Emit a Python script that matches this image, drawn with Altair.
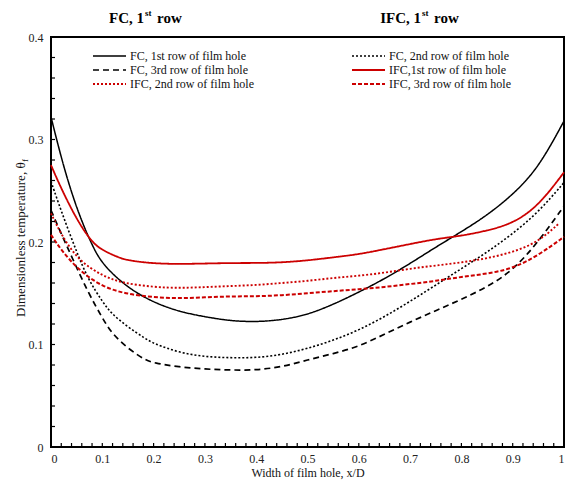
import altair as alt
import pandas as pd

# Dimensionless temperature across the film hole width for FC and IFC cases
x_fc1 = [0, 0.02, 0.04, 0.06, 0.08, 0.1, 0.15, 0.2, 0.25, 0.3, 0.35, 0.4, 0.45, 0.5, 0.55, 0.6, 0.65, 0.7, 0.75, 0.8, 0.85, 0.9, 0.95, 1.0]
y_fc1 = [0.322, 0.282, 0.248, 0.220, 0.197, 0.178, 0.155, 0.141, 0.132, 0.127, 0.123, 0.122, 0.124, 0.129, 0.139, 0.151, 0.164, 0.179, 0.195, 0.210, 0.226, 0.246, 0.272, 0.318]

x_fc2 = [0, 0.02, 0.05, 0.073, 0.1, 0.118, 0.15, 0.183, 0.2, 0.25, 0.3, 0.35, 0.4, 0.45, 0.5, 0.55, 0.6, 0.65, 0.7, 0.75, 0.8, 0.85, 0.9, 0.95, 1.0]
y_fc2 = [0.259, 0.230, 0.190, 0.163, 0.142, 0.130, 0.117, 0.106, 0.101, 0.092, 0.088, 0.087, 0.087, 0.090, 0.096, 0.104, 0.114, 0.127, 0.142, 0.158, 0.174, 0.190, 0.208, 0.229, 0.258]

x_fc3 = [0, 0.02, 0.04, 0.073, 0.1, 0.118, 0.15, 0.183, 0.2, 0.25, 0.3, 0.35, 0.4, 0.45, 0.5, 0.55, 0.6, 0.65, 0.7, 0.75, 0.8, 0.85, 0.9, 0.95, 1.0]
y_fc3 = [0.231, 0.208, 0.186, 0.150, 0.126, 0.111, 0.096, 0.085, 0.082, 0.078, 0.076, 0.075, 0.075, 0.078, 0.085, 0.091, 0.098, 0.110, 0.122, 0.133, 0.144, 0.156, 0.172, 0.200, 0.235]

x_ifc1 = [0, 0.02, 0.05, 0.079, 0.1, 0.131, 0.15, 0.2, 0.25, 0.3, 0.35, 0.4, 0.45, 0.5, 0.55, 0.6, 0.65, 0.7, 0.75, 0.8, 0.85, 0.9, 0.95, 1.0]
y_ifc1 = [0.275, 0.252, 0.222, 0.200, 0.192, 0.185, 0.182, 0.179, 0.1785, 0.179, 0.1795, 0.1795, 0.180, 0.182, 0.185, 0.188, 0.193, 0.198, 0.203, 0.206, 0.211, 0.218, 0.235, 0.268]

x_ifc2 = [0, 0.02, 0.053, 0.1, 0.138, 0.2, 0.25, 0.3, 0.35, 0.4, 0.45, 0.5, 0.55, 0.6, 0.65, 0.7, 0.75, 0.8, 0.85, 0.9, 0.95, 0.99]
y_ifc2 = [0.228, 0.207, 0.182, 0.167, 0.160, 0.156, 0.155, 0.156, 0.157, 0.158, 0.160, 0.162, 0.165, 0.167, 0.170, 0.174, 0.177, 0.180, 0.184, 0.190, 0.200, 0.218]

x_ifc3 = [0, 0.02, 0.053, 0.1, 0.15, 0.2, 0.25, 0.3, 0.35, 0.4, 0.45, 0.5, 0.55, 0.6, 0.65, 0.7, 0.75, 0.8, 0.85, 0.9, 0.95, 1.0]
y_ifc3 = [0.207, 0.192, 0.173, 0.156, 0.149, 0.146, 0.145, 0.146, 0.147, 0.147, 0.148, 0.150, 0.152, 0.154, 0.156, 0.159, 0.162, 0.166, 0.169, 0.174, 0.187, 0.205]

series_names = [
    "FC,  1st row of film hole",
    "FC, 2nd row of film hole",
    "FC, 3rd row of film hole",
    "IFC,1st row of film hole",
    "IFC, 2nd row of film hole",
    "IFC, 3rd row of film hole",
]
series_colors = ["#000000", "#000000", "#000000", "#cc0000", "#cc0000", "#cc0000"]
series_dashes = [[1, 0], [2, 2], [6, 4], [1, 0], [2, 2], [4, 2]]
series_widths = [1.5, 2, 1.5, 1.5, 2, 1.5]

x_ticks = [0, 0.1, 0.2, 0.3, 0.4, 0.5, 0.6, 0.7, 0.8, 0.9, 1.0]
y_ticks = [0, 0.1, 0.2, 0.3, 0.4]
x_minor = [round(i * 0.02, 2) for i in range(1, 50)]
y_minor = [round(i * 0.02, 2) for i in range(1, 20)]

xs = [x_fc1, x_fc2, x_fc3, x_ifc1, x_ifc2, x_ifc3]
ys = [y_fc1, y_fc2, y_fc3, y_ifc1, y_ifc2, y_ifc3]
rows = []
for name, xv, yv in zip(series_names, xs, ys):
    for i, (a, b) in enumerate(zip(xv, yv)):
        rows.append({"series": name, "x": a, "y": b, "order": i})
df = pd.DataFrame(rows)

W, H = 513, 410
FONT = "Liberation Serif"

color_enc = alt.Color("series:N", scale=alt.Scale(domain=series_names, range=series_colors), legend=None)
dash_enc = alt.StrokeDash("series:N", scale=alt.Scale(domain=series_names, range=series_dashes), legend=None)
width_enc = alt.StrokeWidth("series:N", scale=alt.Scale(domain=series_names, range=series_widths), legend=None)

xs_scale = alt.Scale(domain=[0, 1], nice=False, zero=False)
ys_scale = alt.Scale(domain=[0, 0.4], nice=False)

lines = alt.Chart(df).mark_line(interpolate="basis").encode(
    x=alt.X("x:Q", scale=xs_scale, axis=alt.Axis(
        values=x_ticks, format=".1~f", title="Width of film hole, x/D",
        labelPadding=6, titlePadding=3)),
    y=alt.Y("y:Q", scale=ys_scale, axis=alt.Axis(
        values=y_ticks, format=".1~f", title=None, labelPadding=8)),
    color=color_enc, strokeDash=dash_enc, strokeWidth=width_enc,
    order="order:Q",
)

# key: two columns, filled row by row
key = pd.DataFrame({
    "series": series_names,
    "col": [i % 2 for i in range(len(series_names))],
    "row": [i // 2 for i in range(len(series_names))],
})
key_base = alt.Chart(key).transform_calculate(
    lx="42 + 259 * datum.col", lx2="75 + 259 * datum.col",
    tx="79 + 259 * datum.col", ly="19 + 14 * datum.row",
)
key_lines = key_base.mark_rule().encode(
    x=alt.X("lx:Q", scale=None), x2="lx2:Q", y=alt.Y("ly:Q", scale=None),
    color=color_enc, strokeDash=dash_enc, strokeWidth=width_enc,
)
key_text = key_base.mark_text(font=FONT, fontSize=12, align="left", baseline="middle", color="#111").encode(
    x=alt.X("tx:Q", scale=None), y=alt.Y("ly:Q", scale=None), text="series:N",
)

# inward minor ticks on the bottom and left frame
xt = alt.Chart(pd.DataFrame({"x": x_minor})).mark_rule(color="black", strokeWidth=1.2).encode(
    x=alt.X("x:Q", scale=xs_scale), y=alt.value(H), y2=alt.value(H - 4))
yt = alt.Chart(pd.DataFrame({"y": y_minor})).mark_rule(color="black", strokeWidth=1.2).encode(
    y=alt.Y("y:Q", scale=ys_scale), x=alt.value(0), x2=alt.value(4))

# panel headings with superscript ordinals
heads = pd.DataFrame({"t": ["FC, 1", "IFC, 1"], "x": [93, 370]})
head_main = alt.Chart(heads).mark_text(font=FONT, fontSize=15, fontWeight="bold", align="right", baseline="alphabetic", color="black").encode(
    text="t:N", x=alt.X("x:Q", scale=None), y=alt.value(-14))
head_sup = alt.Chart(heads).mark_text(font=FONT, fontSize=9, fontWeight="bold", align="left", baseline="alphabetic", color="black", dx=1).encode(
    text=alt.value("st"), x=alt.X("x:Q", scale=None), y=alt.value(-21))
head_row = alt.Chart(heads).mark_text(font=FONT, fontSize=15, fontWeight="bold", align="left", baseline="alphabetic", color="black", dx=13).encode(
    text=alt.value("row"), x=alt.X("x:Q", scale=None), y=alt.value(-14))

# rotated y-axis title with subscript
ytitle = alt.Chart(pd.DataFrame({"a": [0]})).mark_text(font=FONT, fontSize=13, angle=270, align="left", baseline="middle", color="#111").encode(
    text=alt.value("Dimensionless temperature, θ"), x=alt.value(-30), y=alt.value(280))
ysub = alt.Chart(pd.DataFrame({"a": [0]})).mark_text(font=FONT, fontSize=9, angle=270, align="left", baseline="middle", color="#111").encode(
    text=alt.value("f"), x=alt.value(-26), y=alt.value(125))

chart = alt.layer(lines, key_lines, key_text, xt, yt, head_main, head_sup, head_row, ytitle, ysub).properties(
    width=W, height=H,
    autosize=alt.AutoSizeParams(type="none"),
    padding={"left": 51, "top": 37, "right": 3, "bottom": 34},
).configure_view(stroke="black", strokeWidth=2).configure_axis(
    grid=False, ticks=False, domain=False, labelFont=FONT, labelFontSize=12,
    labelColor="#222", titleFont=FONT, titleFontSize=12, titleFontWeight="normal",
    titleColor="#111",
)

chart.save("out.html", embed_options={"renderer": "svg", "actions": False})
